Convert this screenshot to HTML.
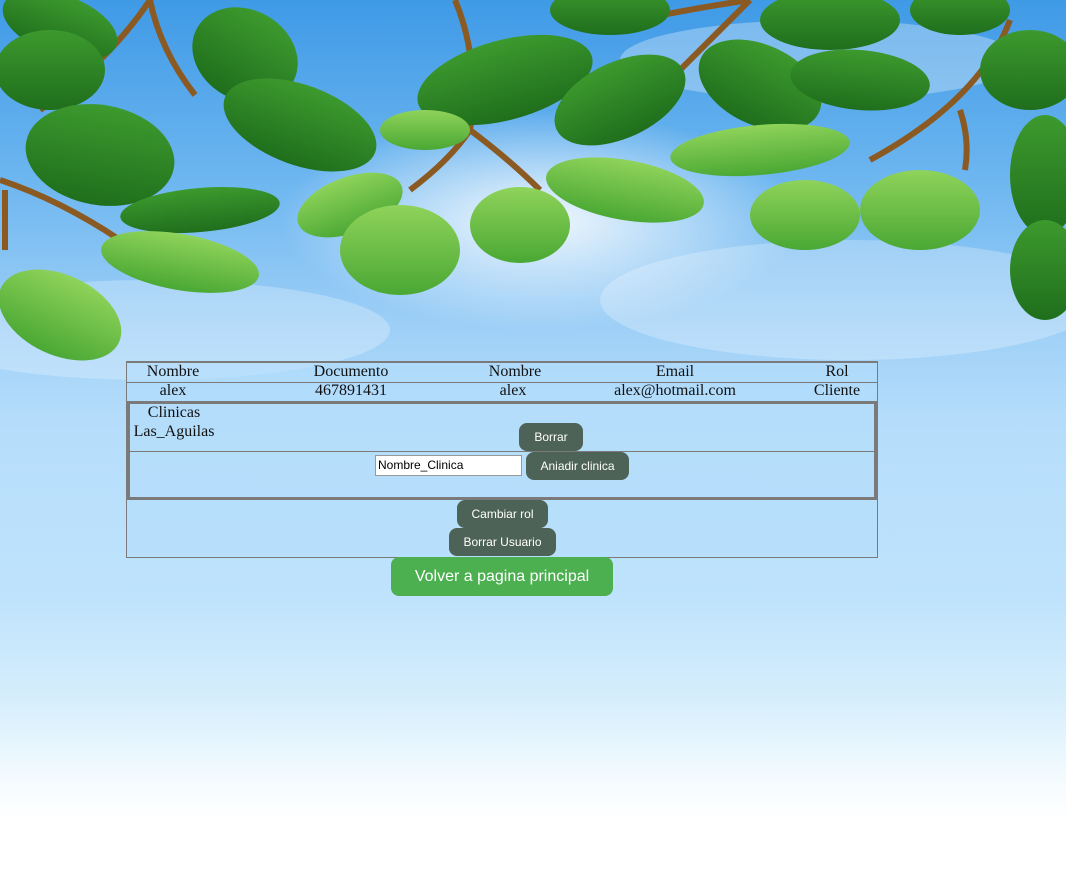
<!DOCTYPE html>
<html><head><meta charset="utf-8"><style>
html,body{margin:0;padding:0;width:1066px;height:876px;overflow:hidden;}
body{position:relative;background:linear-gradient(to bottom,#3f9ae6 0px,#6db6f0 180px,#9fd0f7 330px,#b5ddfb 420px,#bfe3fc 600px,#d6eefc 700px,#f4fbff 780px,#ffffff 820px);font-family:"Liberation Serif",serif;}
.a{position:absolute;}
.t{position:absolute;font-size:16px;color:#111;transform:translateX(-50%);white-space:nowrap;}
.btn{position:absolute;background:#4e6357;color:#fff;border-radius:8px;font-family:"Liberation Sans",sans-serif;font-size:12px;text-align:center;}
</style></head><body>
<svg class="a" style="left:0;top:0" width="1066" height="380">
<defs>
<radialGradient id="sun" cx="0.5" cy="0.5" r="0.5"><stop offset="0" stop-color="#fff" stop-opacity="1"/><stop offset="1" stop-color="#fff" stop-opacity="0"/></radialGradient>
<linearGradient id="lf" x1="0" y1="0" x2="0" y2="1"><stop offset="0" stop-color="#3d9a2e"/><stop offset="1" stop-color="#1f6e1c"/></linearGradient>
<linearGradient id="lf2" x1="0" y1="0" x2="0" y2="1"><stop offset="0" stop-color="#8fd35a"/><stop offset="1" stop-color="#4aa834"/></linearGradient>
</defs>
<ellipse cx="540" cy="220" rx="260" ry="110" fill="url(#sun)" opacity="0.9"/>
<ellipse cx="820" cy="60" rx="200" ry="40" fill="#fff" opacity="0.3"/>
<ellipse cx="150" cy="330" rx="240" ry="50" fill="#fff" opacity="0.25"/>
<ellipse cx="850" cy="300" rx="250" ry="60" fill="#fff" opacity="0.25"/>
<g stroke="#8b5a22" stroke-width="6" fill="none">
<path d="M150 0 Q110 60 40 110"/><path d="M150 0 Q160 50 195 95"/>
<path d="M455 0 Q480 60 470 130 Q450 160 410 190"/><path d="M470 130 Q510 160 540 190"/>
<path d="M590 30 Q680 10 750 0"/><path d="M750 0 Q700 50 660 90"/>
<path d="M1010 20 Q980 100 870 160"/><path d="M960 110 Q970 140 965 170"/>
<path d="M0 180 Q60 200 120 240"/><path d="M5 190 L5 250"/>
</g>
<g fill="url(#lf)">
<ellipse cx="60" cy="25" rx="60" ry="30" transform="rotate(20 60 25)"/>
<ellipse cx="50" cy="70" rx="55" ry="40"/>
<ellipse cx="245" cy="55" rx="55" ry="45" transform="rotate(30 245 55)"/>
<ellipse cx="100" cy="155" rx="75" ry="50" transform="rotate(10 100 155)"/>
<ellipse cx="300" cy="125" rx="80" ry="40" transform="rotate(20 300 125)"/>
<ellipse cx="200" cy="210" rx="80" ry="22" transform="rotate(-5 200 210)"/>
<ellipse cx="505" cy="80" rx="90" ry="40" transform="rotate(-15 505 80)"/>
<ellipse cx="620" cy="100" rx="70" ry="38" transform="rotate(-25 620 100)"/>
<ellipse cx="760" cy="85" rx="65" ry="40" transform="rotate(25 760 85)"/>
<ellipse cx="860" cy="80" rx="70" ry="30" transform="rotate(5 860 80)"/>
<ellipse cx="830" cy="20" rx="70" ry="30"/>
<ellipse cx="610" cy="10" rx="60" ry="25"/>
<ellipse cx="1030" cy="70" rx="50" ry="40"/>
<ellipse cx="1045" cy="175" rx="35" ry="60"/>
<ellipse cx="1045" cy="270" rx="35" ry="50"/>
<ellipse cx="960" cy="10" rx="50" ry="25"/>
</g>
<g fill="url(#lf2)">
<ellipse cx="180" cy="262" rx="80" ry="28" transform="rotate(10 180 262)"/>
<ellipse cx="60" cy="315" rx="65" ry="40" transform="rotate(25 60 315)"/>
<ellipse cx="350" cy="205" rx="55" ry="28" transform="rotate(-20 350 205)"/>
<ellipse cx="400" cy="250" rx="60" ry="45"/>
<ellipse cx="520" cy="225" rx="50" ry="38"/>
<ellipse cx="625" cy="190" rx="80" ry="30" transform="rotate(10 625 190)"/>
<ellipse cx="760" cy="150" rx="90" ry="25" transform="rotate(-5 760 150)"/>
<ellipse cx="805" cy="215" rx="55" ry="35"/>
<ellipse cx="920" cy="210" rx="60" ry="40"/>
<ellipse cx="425" cy="130" rx="45" ry="20"/>
</g>
</svg>

<div class="a" style="left:126px;top:361px;width:750px;height:194px;border:1px solid #7a7a7a;border-top:2px solid #7a7a7a;background:rgba(180,222,252,0.6);"></div>
<div class="a" style="left:127px;top:382px;width:750px;height:1px;background:#7a7a7a"></div>
<div class="a" style="left:127px;top:401px;width:750px;height:3px;background:#7a7a7a"></div>
<div class="a" style="left:127px;top:401px;width:3px;height:99px;background:#7a7a7a"></div>
<div class="a" style="left:874px;top:401px;width:3px;height:99px;background:#7a7a7a"></div>
<div class="a" style="left:129px;top:451px;width:746px;height:1px;background:#7a7a7a"></div>
<div class="a" style="left:127px;top:497px;width:750px;height:3px;background:#7a7a7a"></div>

<div class="t" style="left:173px;top:363px">Nombre</div>
<div class="t" style="left:351px;top:363px">Documento</div>
<div class="t" style="left:515px;top:363px">Nombre</div>
<div class="t" style="left:675px;top:363px">Email</div>
<div class="t" style="left:837px;top:363px">Rol</div>
<div class="t" style="left:173px;top:382px">alex</div>
<div class="t" style="left:351px;top:382px">467891431</div>
<div class="t" style="left:513px;top:382px">alex</div>
<div class="t" style="left:675px;top:382px">alex@hotmail.com</div>
<div class="t" style="left:837px;top:382px">Cliente</div>
<div class="t" style="left:174px;top:404px">Clinicas</div>
<div class="t" style="left:174px;top:423px">Las_Aguilas</div>

<div class="btn" style="left:519px;top:423px;width:64px;height:28px;line-height:28px">Borrar</div>
<div class="a" style="left:375px;top:455px;width:147px;height:21px;background:#fff;border:1px solid #999;font-family:'Liberation Sans',sans-serif;font-size:12px;line-height:19px;padding-left:2px;box-sizing:border-box;">Nombre_Clinica</div>
<div class="btn" style="left:526px;top:452px;width:103px;height:28px;line-height:28px">Aniadir clinica</div>
<div class="btn" style="left:457px;top:500px;width:91px;height:28px;line-height:28px">Cambiar rol</div>
<div class="btn" style="left:449px;top:528px;width:107px;height:28px;line-height:28px">Borrar Usuario</div>
<div class="btn" style="left:391px;top:557px;width:222px;height:39px;line-height:39px;background:#4caf50;font-size:16px">Volver a pagina principal</div>
</body></html>
